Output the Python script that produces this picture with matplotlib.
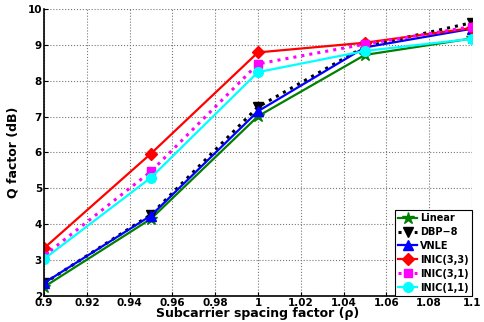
import matplotlib
matplotlib.use("Agg")
import matplotlib.pyplot as plt

# -----------------------------
# Data
# -----------------------------
rho = [0.9, 0.95, 1.0, 1.05, 1.1]
q_linear = [2.25, 4.15, 7.01, 8.72, 9.18]
q_dbp8 = [2.35, 4.27, 7.27, 8.95, 9.62]
q_vnle = [2.36, 4.24, 7.15, 8.93, 9.45]
q_inic33 = [3.33, 5.97, 8.79, 9.06, 9.47]
q_inic31 = [3.12, 5.47, 8.47, 9.02, 9.51]
q_inic11 = [3.03, 5.30, 8.24, 8.83, 9.17]

xticks = [0.9, 0.92, 0.94, 0.96, 0.98, 1.0, 1.02, 1.04, 1.06, 1.08, 1.1]
xticklabels = ["0.9", "0.92", "0.94", "0.96", "0.98", "1", "1.02", "1.04", "1.06", "1.08", "1.1"]


def main():
    fig = plt.figure(figsize=(4.84, 3.22), dpi=100)
    ax = fig.add_axes([0.091, 0.081, 0.884, 0.891])

    ax.plot(rho, q_linear, "-", color="#007f00", marker="*", ms=9, lw=1.6, label="Linear")
    ax.plot(rho, q_dbp8, ":", color="black", marker="v", ms=7, lw=2.2, label="DBP\u22128")
    ax.plot(rho, q_vnle, "-", color="blue", marker="^", ms=7, lw=1.6, label="VNLE")
    ax.plot(rho, q_inic33, "-", color="red", marker="D", ms=6, lw=1.6, label="INIC(3,3)")
    ax.plot(rho, q_inic31, ":", color="magenta", marker="s", ms=6, lw=2.2, label="INIC(3,1)")
    ax.plot(rho, q_inic11, "-", color="cyan", marker="o", ms=7, lw=1.6, label="INIC(1,1)")

    ax.set_xlim(0.9, 1.1)
    ax.set_ylim(2, 10)
    ax.set_xticks(xticks)
    ax.set_xticklabels(xticklabels)
    ax.set_yticks(range(2, 11))
    ax.tick_params(direction="in", labelsize=7.5, pad=1.5, length=3)
    for lbl in ax.get_xticklabels() + ax.get_yticklabels():
        lbl.set_fontweight("bold")

    # only left and bottom frame lines, top/right come from the dotted grid
    ax.spines["top"].set_visible(False)
    ax.spines["right"].set_visible(False)
    ax.spines["left"].set_linewidth(1.2)
    ax.spines["bottom"].set_linewidth(1.2)

    ax.grid(True, linestyle=":", color="#777777", lw=0.8)
    ax.set_xlabel("Subcarrier spacing factor (\u03c1)", fontsize=9, fontweight="bold", labelpad=-1)
    ax.set_ylabel("Q factor (dB)", fontsize=9, fontweight="bold", labelpad=6)

    leg = ax.legend(loc="lower right", prop={"size": 7, "weight": "bold"},
                    fancybox=False, edgecolor="black", framealpha=1,
                    handlelength=1.9, labelspacing=0.4, borderpad=0.35,
                    handletextpad=0.3, borderaxespad=0.0)
    leg.get_frame().set_linewidth(0.8)

    fig.savefig("out.png", dpi=100)
    plt.close(fig)


if __name__ == "__main__":
    main()
